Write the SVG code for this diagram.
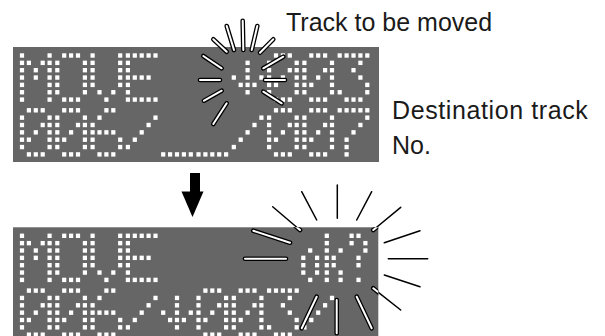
<svg xmlns="http://www.w3.org/2000/svg" xmlns:xlink="http://www.w3.org/1999/xlink" width="605" height="336" viewBox="0 0 605 336">
<style>
.panel{fill:#666}
.lbl{font-family:"Liberation Sans",Arial,sans-serif;font-size:25px;fill:#1a1a1a}
.ob{stroke:#000;stroke-width:4.6;stroke-linecap:round;fill:none}
.ow{stroke:#fff;stroke-width:2;stroke-linecap:round;fill:none}
.thin{stroke:#000;stroke-width:1.5;stroke-linecap:round;fill:none}
</style>
<defs>
<rect id="d" x="-2.1" y="-2.2" width="4.2" height="4.4" fill="#fff"/>
<g id="p10001"><use href="#d"/><use href="#d" x="27.6"/></g>
<g id="p01110"><use href="#d" x="6.9"/><use href="#d" x="13.8"/><use href="#d" x="20.7"/></g>
<g id="p11011"><use href="#d"/><use href="#d" x="6.9"/><use href="#d" x="20.7"/><use href="#d" x="27.6"/></g>
<g id="p10101"><use href="#d"/><use href="#d" x="13.8"/><use href="#d" x="27.6"/></g>
<g id="p11111"><use href="#d"/><use href="#d" x="6.9"/><use href="#d" x="13.8"/><use href="#d" x="20.7"/><use href="#d" x="27.6"/></g>
<g id="p10000"><use href="#d"/></g>
<g id="p11110"><use href="#d"/><use href="#d" x="6.9"/><use href="#d" x="13.8"/><use href="#d" x="20.7"/></g>
<g id="p10011"><use href="#d"/><use href="#d" x="20.7"/><use href="#d" x="27.6"/></g>
<g id="p11001"><use href="#d"/><use href="#d" x="6.9"/><use href="#d" x="27.6"/></g>
<g id="p00110"><use href="#d" x="13.8"/><use href="#d" x="20.7"/></g>
<g id="p01000"><use href="#d" x="6.9"/></g>
<g id="p00001"><use href="#d" x="27.6"/></g>
<g id="p00010"><use href="#d" x="20.7"/></g>
<g id="p00100"><use href="#d" x="13.8"/></g>
<g id="p01010"><use href="#d" x="6.9"/><use href="#d" x="20.7"/></g>
<g id="p10100"><use href="#d"/><use href="#d" x="13.8"/></g>
<g id="p11000"><use href="#d"/><use href="#d" x="6.9"/></g>

<g id="gM"><use href="#p10001"/><use href="#p11011" y="7.35"/><use href="#p10101" y="14.7"/><use href="#p10101" y="22.05"/><use href="#p10001" y="29.4"/><use href="#p10001" y="36.75"/><use href="#p10001" y="44.1"/></g>
<g id="gO"><use href="#p01110"/><use href="#p10001" y="7.35"/><use href="#p10001" y="14.7"/><use href="#p10001" y="22.05"/><use href="#p10001" y="29.4"/><use href="#p10001" y="36.75"/><use href="#p01110" y="44.1"/></g>
<g id="gV"><use href="#p10001"/><use href="#p10001" y="7.35"/><use href="#p10001" y="14.7"/><use href="#p10001" y="22.05"/><use href="#p10001" y="29.4"/><use href="#p01010" y="36.75"/><use href="#p00100" y="44.1"/></g>
<g id="gE"><use href="#p11111"/><use href="#p10000" y="7.35"/><use href="#p10000" y="14.7"/><use href="#p11110" y="22.05"/><use href="#p10000" y="29.4"/><use href="#p10000" y="36.75"/><use href="#p11111" y="44.1"/></g>
<g id="g0"><use href="#p01110"/><use href="#p10001" y="7.35"/><use href="#p10011" y="14.7"/><use href="#p10101" y="22.05"/><use href="#p11001" y="29.4"/><use href="#p10001" y="36.75"/><use href="#p01110" y="44.1"/></g>
<g id="g6"><use href="#p00110"/><use href="#p01000" y="7.35"/><use href="#p10000" y="14.7"/><use href="#p11110" y="22.05"/><use href="#p10001" y="29.4"/><use href="#p10001" y="36.75"/><use href="#p01110" y="44.1"/></g>
<g id="gS"><use href="#p00001" y="7.35"/><use href="#p00010" y="14.7"/><use href="#p00100" y="22.05"/><use href="#p01000" y="29.4"/><use href="#p10000" y="36.75"/></g>
<g id="gU"><use href="#p11111" y="44.1"/></g>
<g id="g3"><use href="#p11111"/><use href="#p00010" y="7.35"/><use href="#p00100" y="14.7"/><use href="#p00010" y="22.05"/><use href="#p00001" y="29.4"/><use href="#p10001" y="36.75"/><use href="#p01110" y="44.1"/></g>
<g id="g7"><use href="#p11111"/><use href="#p00001" y="7.35"/><use href="#p00010" y="14.7"/><use href="#p00100" y="22.05"/><use href="#p01000" y="29.4"/><use href="#p01000" y="36.75"/><use href="#p01000" y="44.1"/></g>
<g id="gA"><use href="#p00100" y="7.35"/><use href="#p00100" y="14.7"/><use href="#p10101" y="22.05"/><use href="#p01110" y="29.4"/><use href="#p00100" y="36.75"/></g>
<g id="go"><use href="#p01000" y="14.7"/><use href="#p10100" y="22.05"/><use href="#p10100" y="29.4"/><use href="#p10100" y="36.75"/><use href="#p01000" y="44.1"/></g>
<g id="gk"><use href="#p10000"/><use href="#p10000" y="7.35"/><use href="#p10100" y="14.7"/><use href="#p11000" y="22.05"/><use href="#p11000" y="29.4"/><use href="#p10100" y="36.75"/><use href="#p10100" y="44.1"/></g>
<g id="gQ"><use href="#p11000"/><use href="#p10100" y="7.35"/><use href="#p00100" y="14.7"/><use href="#p01000" y="22.05"/><use href="#p01000" y="29.4"/><use href="#p01000" y="44.1"/></g>
<clipPath id="cp2"><rect x="13" y="227.3" width="365.3" height="120"/></clipPath>
</defs>

<rect width="605" height="336" fill="#fff"/>

<g id="display1">
<rect class="panel" x="13" y="47" width="366" height="115"/>
<g id="display1-line1" transform="translate(0,55.5)">
<use href="#gM" x="22"/><use href="#gO" x="57.3"/><use href="#gV" x="92.6"/><use href="#gE" x="127.9"/>
<use href="#gA" x="233.8"/><use href="#g0" x="269.1"/><use href="#g0" x="304.4"/><use href="#g3" x="339.7"/>
</g>
<g id="display1-line2" transform="translate(0,110.3)">
<use href="#g0" x="22"/><use href="#g0" x="57.3"/><use href="#g6" x="92.6"/><use href="#gS" x="127.9"/>
<use href="#gU" x="163.2"/><use href="#gU" x="198.5"/><use href="#gS" x="233.8"/><use href="#g0" x="269.1"/><use href="#g0" x="304.4"/><use href="#g7" x="339.7"/>
</g>
<g id="flash1">
<g class="ob">
<line x1="213.3" y1="39.3" x2="226.7" y2="51.7"/><line x1="226.7" y1="26" x2="234" y2="50"/><line x1="242.7" y1="20.7" x2="243.3" y2="50"/><line x1="257.3" y1="26" x2="251.7" y2="50"/><line x1="273.3" y1="39.3" x2="260" y2="52.7"/>
<line x1="203.3" y1="56" x2="221.7" y2="68.3"/><line x1="200" y1="80" x2="220" y2="80"/><line x1="204" y1="100.7" x2="221.7" y2="90.7"/><line x1="213.3" y1="124" x2="226.7" y2="103.3"/>
<line x1="263.3" y1="68.3" x2="283.3" y2="56.7"/><line x1="265" y1="80" x2="285" y2="80"/><line x1="263.3" y1="91.7" x2="281.7" y2="103.3"/>
</g>
<g class="ow">
<line x1="213.3" y1="39.3" x2="226.7" y2="51.7"/><line x1="226.7" y1="26" x2="234" y2="50"/><line x1="242.7" y1="20.7" x2="243.3" y2="50"/><line x1="257.3" y1="26" x2="251.7" y2="50"/><line x1="273.3" y1="39.3" x2="260" y2="52.7"/>
<line x1="203.3" y1="56" x2="221.7" y2="68.3"/><line x1="200" y1="80" x2="220" y2="80"/><line x1="204" y1="100.7" x2="221.7" y2="90.7"/><line x1="213.3" y1="124" x2="226.7" y2="103.3"/>
<line x1="263.3" y1="68.3" x2="283.3" y2="56.7"/><line x1="265" y1="80" x2="285" y2="80"/><line x1="263.3" y1="91.7" x2="281.7" y2="103.3"/>
</g>
</g>
</g>

<g id="arrow">
<rect x="190" y="173" width="10" height="19" fill="#000"/>
<polygon points="181.5,191.5 203.5,191.5 192.5,217" fill="#000"/>
</g>

<g id="display2">
<rect class="panel" x="13" y="227.3" width="365.3" height="120"/>
<g id="display2-line1" transform="translate(0,235.8)">
<use href="#gM" x="22"/><use href="#gO" x="57.3"/><use href="#gV" x="92.6"/><use href="#gE" x="127.9"/>
<use href="#go" x="303.3"/><use href="#gk" x="326.8"/><use href="#gQ" x="351.6"/>
</g>
<g id="display2-line2" transform="translate(0,290.6)">
<use href="#g0" x="22"/><use href="#g0" x="57.3"/><use href="#g6" x="92.6"/><use href="#gS" x="127.9"/>
<use href="#gA" x="163.2"/><use href="#g0" x="198.5"/><use href="#g0" x="233.8"/><use href="#g3" x="269.1"/><use href="#gS" x="304.4"/>
</g>
<g id="flash2">
<g class="thin">
<line x1="272.7" y1="206.7" x2="300" y2="230"/><line x1="301.7" y1="191.7" x2="316.7" y2="220"/><line x1="337.3" y1="185" x2="337.3" y2="218.3"/><line x1="371.7" y1="191.7" x2="356.7" y2="220"/><line x1="400.7" y1="207.3" x2="373.3" y2="230"/>
<line x1="420" y1="230.7" x2="384.3" y2="242.7"/><line x1="427.7" y1="258.7" x2="388.3" y2="258.7"/><line x1="420" y1="286.7" x2="384.3" y2="275"/><line x1="400.7" y1="310" x2="373.3" y2="288.3"/>
</g>
<g clip-path="url(#cp2)">
<g class="ob">
<line x1="272.7" y1="206.7" x2="300" y2="230"/><line x1="400.7" y1="207.3" x2="373.3" y2="230"/><line x1="400.7" y1="310" x2="373.3" y2="288.3"/>
<line x1="253.3" y1="230.7" x2="290" y2="242.7"/><line x1="245" y1="258.7" x2="286" y2="258.7"/><line x1="316.7" y1="296.7" x2="301.7" y2="328.3"/><line x1="336.7" y1="300" x2="336.7" y2="333.3"/><line x1="356.7" y1="296.7" x2="371.7" y2="328.3"/>
</g>
<g class="ow">
<line x1="272.7" y1="206.7" x2="300" y2="230"/><line x1="400.7" y1="207.3" x2="373.3" y2="230"/><line x1="400.7" y1="310" x2="373.3" y2="288.3"/>
<line x1="253.3" y1="230.7" x2="290" y2="242.7"/><line x1="245" y1="258.7" x2="286" y2="258.7"/><line x1="316.7" y1="296.7" x2="301.7" y2="328.3"/><line x1="336.7" y1="300" x2="336.7" y2="333.3"/><line x1="356.7" y1="296.7" x2="371.7" y2="328.3"/>
</g>
</g>
</g>
</g>

<g id="labels">
<text id="label-track" class="lbl" x="286" y="31">Track to be moved</text>
<text id="label-dest" class="lbl" x="392" y="119" letter-spacing="0.6">Destination track</text>
<text id="label-no" class="lbl" x="392" y="154">No.</text>
</g>
</svg>
